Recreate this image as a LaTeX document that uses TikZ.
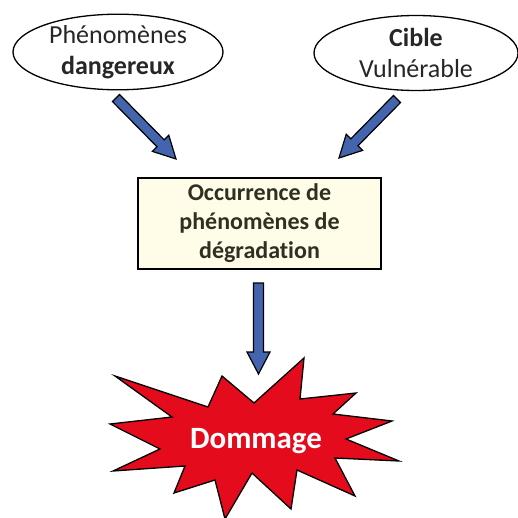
\documentclass[tikz,border=0pt]{standalone}
\usepackage{fontspec}
\setmainfont{Carlito}[Ligatures=NoCommon]
\usepackage{tikz}
\usetikzlibrary{calc,shapes.geometric}

\definecolor{arrowblue}{HTML}{4464AD}
\definecolor{boomred}{HTML}{E30B1C}
\definecolor{boxcream}{HTML}{FFFDE8}
\definecolor{textgray}{HTML}{262626}
\definecolor{boxtext}{HTML}{2F2F22}

\tikzset{
  bubble/.style={draw=black,line width=1.3pt,ellipse,inner sep=0pt,
    minimum width=210pt,minimum height=75pt,text=textgray,align=center,
    font=\fontsize{26}{31}\selectfont},
  eventbox/.style={draw=black,line width=1.6pt,fill=boxcream,inner sep=0pt,
    minimum width=243pt,minimum height=91pt,text=boxtext,align=center,
    font=\fontsize{24}{29}\selectfont\bfseries},
  arrowstyle/.style={fill=arrowblue,draw=black,line width=1.2pt},
  boom/.style={fill=boomred,draw=black,line width=1.3pt,line join=miter}
}

% block arrow from #1 to #2
\newcommand{\blockarrow}[2]{%
  \coordinate (hb) at ($(#2)!22pt!(#1)$);
  \filldraw[arrowstyle] ($(#1)!5pt!90:(#2)$) -- ($(hb)!5pt!-90:(#1)$)
    -- ($(hb)!11.5pt!-90:(#1)$) -- (#2) -- ($(hb)!11.5pt!90:(#1)$)
    -- ($(hb)!5pt!90:(#1)$) -- ($(#1)!5pt!-90:(#2)$) -- cycle;}

\begin{document}
\begin{tikzpicture}[x=1pt,y=-1pt]
	\useasboundingbox (0,0) rectangle (518,518);
	% sources
	\node[bubble] (danger) at (118,52) {Phénomènes\\\textbf{dangereux}};
	\node[bubble,minimum width=204pt] (cible) at (416,53) {\textbf{Cible}\\Vulnérable};
	% central box
	\node[eventbox] (occur) at (259.5,223.5) {Occurrence de\\phénomènes de\\dégradation};
	% explosion
	\draw[boom] (115,376) -- (208,407) -- (222,376) -- (254,403) -- (304,358)
		-- (300,399) -- (356,393) -- (333,414) -- (392,421) -- (346,439)
		-- (399,461) -- (335,458) -- (355,496) -- (297,470) -- (291,509)
		-- (252,473) -- (225,519) -- (215,480) -- (174,493) -- (185,466)
		-- (113,471) -- (160,449) -- (110,424) -- (172,417) -- cycle;
	\node[text=white,font=\fontsize{31}{36}\selectfont\bfseries] (dommage) at (256,441) {Dommage};
	% arrows
	\coordinate (dangerout) at (116,98);
	\coordinate (dangerin) at (176,159);
	\coordinate (cibleout) at (397,99);
	\coordinate (ciblein) at (339,158);
	\coordinate (occurout) at (258.5,283);
	\coordinate (dommagein) at (258.5,374);
	\blockarrow{dangerout}{dangerin}
	\blockarrow{cibleout}{ciblein}
	\blockarrow{occurout}{dommagein}
\end{tikzpicture}
\end{document}
